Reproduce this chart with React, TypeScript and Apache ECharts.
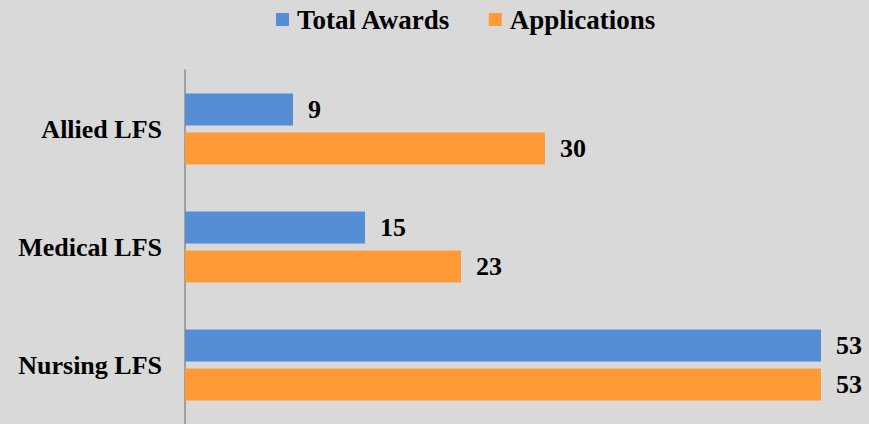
import React, { useEffect, useRef } from "react";
import * as echarts from "echarts";

const categories = ["Allied LFS", "Medical LFS", "Nursing LFS"];
const totalAwards = [9, 15, 53];
const applications = [30, 23, 53];

export default function App() {
  const ref = useRef<HTMLDivElement>(null);
  useEffect(() => {
    if (!ref.current) return;
    const chart = echarts.init(ref.current, undefined, { renderer: "svg" });
    const font = "'Liberation Serif', 'Times New Roman', serif";
    const label = {
      show: true,
      position: "right" as const,
      distance: 15,
      color: "#000",
      fontFamily: font,
      fontWeight: "bold" as const,
      fontSize: 26,
    };
    chart.setOption({
      animation: false,
      backgroundColor: "#d9d9d9",
      legend: {
        top: 1,
        left: 271,
        itemWidth: 13,
        itemHeight: 13,
        itemGap: 38,
        icon: "rect",
        textStyle: {
          fontFamily: font,
          fontWeight: "bold",
          fontSize: 27,
          color: "#000",
          padding: [0, 0, 0, 3],
        },
        data: ["Total Awards", "Applications"],
      },
      grid: { left: 185, top: 70, width: 660, bottom: 0, containLabel: false },
      xAxis: {
        type: "value",
        min: 0,
        max: 55,
        show: false,
        splitLine: { show: false },
      },
      yAxis: {
        type: "category",
        data: categories,
        inverse: true,
        axisLine: { show: true, lineStyle: { color: "#8c8c8c", width: 1.5 } },
        axisTick: { show: false },
        axisLabel: {
          margin: 23,
          color: "#000",
          fontFamily: font,
          fontWeight: "bold",
          fontSize: 26,
        },
      },
      series: [
        {
          name: "Total Awards",
          type: "bar",
          data: totalAwards,
          barWidth: 32,
          barGap: "22%",
          itemStyle: { color: "#558ed5" },
          label,
        },
        {
          name: "Applications",
          type: "bar",
          data: applications,
          barWidth: 32,
          barGap: "22%",
          itemStyle: { color: "#ff9b37" },
          label,
        },
      ],
    });
    return () => chart.dispose();
  }, []);
  return (
    <div
      ref={ref}
      style={{ position: "fixed", left: 0, top: 0, width: 869, height: 424 }}
    />
  );
}
